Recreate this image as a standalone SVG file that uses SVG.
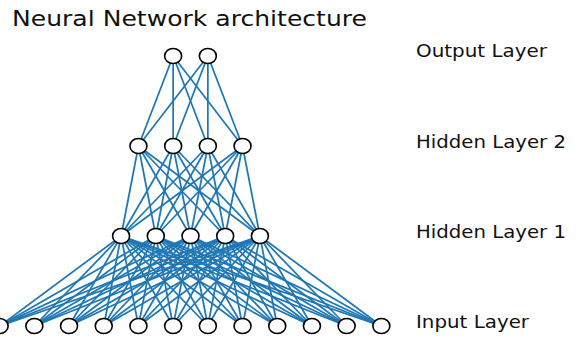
<svg xmlns="http://www.w3.org/2000/svg" width="580" height="338" viewBox="0 0 580 338">
  <style>
    .edge { stroke: #1f77b4; stroke-width: 1.75; }
    .node { fill: #ffffff; stroke: #000000; stroke-width: 1.6; }
    .label { font-family: "DejaVu Sans", sans-serif; fill: #111111; }
  </style>
  <rect width="580" height="338" fill="#ffffff"/>

  <text class="label" x="12" y="26" font-size="20.5" textLength="355" lengthAdjust="spacingAndGlyphs">Neural Network architecture</text>

  <g id="connectors">
    <!-- input layer (y=326) to hidden layer 1 (y=236) -->
    <g id="edges-input-h1">
      <line class="edge" x1="-0.35" y1="326" x2="121.1" y2="236"/><line class="edge" x1="-0.35" y1="326" x2="155.8" y2="236"/><line class="edge" x1="-0.35" y1="326" x2="190.5" y2="236"/><line class="edge" x1="-0.35" y1="326" x2="225.2" y2="236"/><line class="edge" x1="-0.35" y1="326" x2="259.9" y2="236"/>
      <line class="edge" x1="34.35" y1="326" x2="121.1" y2="236"/><line class="edge" x1="34.35" y1="326" x2="155.8" y2="236"/><line class="edge" x1="34.35" y1="326" x2="190.5" y2="236"/><line class="edge" x1="34.35" y1="326" x2="225.2" y2="236"/><line class="edge" x1="34.35" y1="326" x2="259.9" y2="236"/>
      <line class="edge" x1="69.05" y1="326" x2="121.1" y2="236"/><line class="edge" x1="69.05" y1="326" x2="155.8" y2="236"/><line class="edge" x1="69.05" y1="326" x2="190.5" y2="236"/><line class="edge" x1="69.05" y1="326" x2="225.2" y2="236"/><line class="edge" x1="69.05" y1="326" x2="259.9" y2="236"/>
      <line class="edge" x1="103.75" y1="326" x2="121.1" y2="236"/><line class="edge" x1="103.75" y1="326" x2="155.8" y2="236"/><line class="edge" x1="103.75" y1="326" x2="190.5" y2="236"/><line class="edge" x1="103.75" y1="326" x2="225.2" y2="236"/><line class="edge" x1="103.75" y1="326" x2="259.9" y2="236"/>
      <line class="edge" x1="138.45" y1="326" x2="121.1" y2="236"/><line class="edge" x1="138.45" y1="326" x2="155.8" y2="236"/><line class="edge" x1="138.45" y1="326" x2="190.5" y2="236"/><line class="edge" x1="138.45" y1="326" x2="225.2" y2="236"/><line class="edge" x1="138.45" y1="326" x2="259.9" y2="236"/>
      <line class="edge" x1="173.15" y1="326" x2="121.1" y2="236"/><line class="edge" x1="173.15" y1="326" x2="155.8" y2="236"/><line class="edge" x1="173.15" y1="326" x2="190.5" y2="236"/><line class="edge" x1="173.15" y1="326" x2="225.2" y2="236"/><line class="edge" x1="173.15" y1="326" x2="259.9" y2="236"/>
      <line class="edge" x1="207.85" y1="326" x2="121.1" y2="236"/><line class="edge" x1="207.85" y1="326" x2="155.8" y2="236"/><line class="edge" x1="207.85" y1="326" x2="190.5" y2="236"/><line class="edge" x1="207.85" y1="326" x2="225.2" y2="236"/><line class="edge" x1="207.85" y1="326" x2="259.9" y2="236"/>
      <line class="edge" x1="242.55" y1="326" x2="121.1" y2="236"/><line class="edge" x1="242.55" y1="326" x2="155.8" y2="236"/><line class="edge" x1="242.55" y1="326" x2="190.5" y2="236"/><line class="edge" x1="242.55" y1="326" x2="225.2" y2="236"/><line class="edge" x1="242.55" y1="326" x2="259.9" y2="236"/>
      <line class="edge" x1="277.25" y1="326" x2="121.1" y2="236"/><line class="edge" x1="277.25" y1="326" x2="155.8" y2="236"/><line class="edge" x1="277.25" y1="326" x2="190.5" y2="236"/><line class="edge" x1="277.25" y1="326" x2="225.2" y2="236"/><line class="edge" x1="277.25" y1="326" x2="259.9" y2="236"/>
      <line class="edge" x1="311.95" y1="326" x2="121.1" y2="236"/><line class="edge" x1="311.95" y1="326" x2="155.8" y2="236"/><line class="edge" x1="311.95" y1="326" x2="190.5" y2="236"/><line class="edge" x1="311.95" y1="326" x2="225.2" y2="236"/><line class="edge" x1="311.95" y1="326" x2="259.9" y2="236"/>
      <line class="edge" x1="346.65" y1="326" x2="121.1" y2="236"/><line class="edge" x1="346.65" y1="326" x2="155.8" y2="236"/><line class="edge" x1="346.65" y1="326" x2="190.5" y2="236"/><line class="edge" x1="346.65" y1="326" x2="225.2" y2="236"/><line class="edge" x1="346.65" y1="326" x2="259.9" y2="236"/>
      <line class="edge" x1="381.35" y1="326" x2="121.1" y2="236"/><line class="edge" x1="381.35" y1="326" x2="155.8" y2="236"/><line class="edge" x1="381.35" y1="326" x2="190.5" y2="236"/><line class="edge" x1="381.35" y1="326" x2="225.2" y2="236"/><line class="edge" x1="381.35" y1="326" x2="259.9" y2="236"/>
    </g>
    <!-- hidden layer 1 (y=236) to hidden layer 2 (y=146) -->
    <g id="edges-h1-h2">
      <line class="edge" x1="121.1" y1="236" x2="138.45" y2="146"/><line class="edge" x1="121.1" y1="236" x2="173.15" y2="146"/><line class="edge" x1="121.1" y1="236" x2="207.85" y2="146"/><line class="edge" x1="121.1" y1="236" x2="242.55" y2="146"/>
      <line class="edge" x1="155.8" y1="236" x2="138.45" y2="146"/><line class="edge" x1="155.8" y1="236" x2="173.15" y2="146"/><line class="edge" x1="155.8" y1="236" x2="207.85" y2="146"/><line class="edge" x1="155.8" y1="236" x2="242.55" y2="146"/>
      <line class="edge" x1="190.5" y1="236" x2="138.45" y2="146"/><line class="edge" x1="190.5" y1="236" x2="173.15" y2="146"/><line class="edge" x1="190.5" y1="236" x2="207.85" y2="146"/><line class="edge" x1="190.5" y1="236" x2="242.55" y2="146"/>
      <line class="edge" x1="225.2" y1="236" x2="138.45" y2="146"/><line class="edge" x1="225.2" y1="236" x2="173.15" y2="146"/><line class="edge" x1="225.2" y1="236" x2="207.85" y2="146"/><line class="edge" x1="225.2" y1="236" x2="242.55" y2="146"/>
      <line class="edge" x1="259.9" y1="236" x2="138.45" y2="146"/><line class="edge" x1="259.9" y1="236" x2="173.15" y2="146"/><line class="edge" x1="259.9" y1="236" x2="207.85" y2="146"/><line class="edge" x1="259.9" y1="236" x2="242.55" y2="146"/>
    </g>
    <!-- hidden layer 2 (y=146) to output layer (y=56) -->
    <g id="edges-h2-output">
      <line class="edge" x1="138.45" y1="146" x2="173.15" y2="56"/><line class="edge" x1="138.45" y1="146" x2="207.85" y2="56"/>
      <line class="edge" x1="173.15" y1="146" x2="173.15" y2="56"/><line class="edge" x1="173.15" y1="146" x2="207.85" y2="56"/>
      <line class="edge" x1="207.85" y1="146" x2="173.15" y2="56"/><line class="edge" x1="207.85" y1="146" x2="207.85" y2="56"/>
      <line class="edge" x1="242.55" y1="146" x2="173.15" y2="56"/><line class="edge" x1="242.55" y1="146" x2="207.85" y2="56"/>
    </g>
  </g>

  <!-- output layer -->
  <g id="output-layer">
    <g id="out-1"><ellipse class="node" cx="173.15" cy="56" rx="8.5" ry="7.5"/></g>
    <g id="out-2"><ellipse class="node" cx="207.85" cy="56" rx="8.5" ry="7.5"/></g>
  </g>
  <!-- hidden layer 2 -->
  <g id="hidden-layer-2">
    <g id="h2-1"><ellipse class="node" cx="138.45" cy="146" rx="8.5" ry="7.5"/></g>
    <g id="h2-2"><ellipse class="node" cx="173.15" cy="146" rx="8.5" ry="7.5"/></g>
    <g id="h2-3"><ellipse class="node" cx="207.85" cy="146" rx="8.5" ry="7.5"/></g>
    <g id="h2-4"><ellipse class="node" cx="242.55" cy="146" rx="8.5" ry="7.5"/></g>
  </g>
  <!-- hidden layer 1 -->
  <g id="hidden-layer-1">
    <g id="h1-1"><ellipse class="node" cx="121.1" cy="236" rx="8.5" ry="7.5"/></g>
    <g id="h1-2"><ellipse class="node" cx="155.8" cy="236" rx="8.5" ry="7.5"/></g>
    <g id="h1-3"><ellipse class="node" cx="190.5" cy="236" rx="8.5" ry="7.5"/></g>
    <g id="h1-4"><ellipse class="node" cx="225.2" cy="236" rx="8.5" ry="7.5"/></g>
    <g id="h1-5"><ellipse class="node" cx="259.9" cy="236" rx="8.5" ry="7.5"/></g>
  </g>
  <!-- input layer -->
  <g id="input-layer">
    <g id="in-1"><ellipse class="node" cx="-0.35" cy="326" rx="8.5" ry="7.5"/></g>
    <g id="in-2"><ellipse class="node" cx="34.35" cy="326" rx="8.5" ry="7.5"/></g>
    <g id="in-3"><ellipse class="node" cx="69.05" cy="326" rx="8.5" ry="7.5"/></g>
    <g id="in-4"><ellipse class="node" cx="103.75" cy="326" rx="8.5" ry="7.5"/></g>
    <g id="in-5"><ellipse class="node" cx="138.45" cy="326" rx="8.5" ry="7.5"/></g>
    <g id="in-6"><ellipse class="node" cx="173.15" cy="326" rx="8.5" ry="7.5"/></g>
    <g id="in-7"><ellipse class="node" cx="207.85" cy="326" rx="8.5" ry="7.5"/></g>
    <g id="in-8"><ellipse class="node" cx="242.55" cy="326" rx="8.5" ry="7.5"/></g>
    <g id="in-9"><ellipse class="node" cx="277.25" cy="326" rx="8.5" ry="7.5"/></g>
    <g id="in-10"><ellipse class="node" cx="311.95" cy="326" rx="8.5" ry="7.5"/></g>
    <g id="in-11"><ellipse class="node" cx="346.65" cy="326" rx="8.5" ry="7.5"/></g>
    <g id="in-12"><ellipse class="node" cx="381.35" cy="326" rx="8.5" ry="7.5"/></g>
  </g>

  <!-- layer captions -->
  <g id="layer-labels">
    <text class="label" x="416" y="57" font-size="17" textLength="131" lengthAdjust="spacingAndGlyphs">Output Layer</text>
    <text class="label" x="416" y="147.5" font-size="17" textLength="150" lengthAdjust="spacingAndGlyphs">Hidden Layer 2</text>
    <text class="label" x="416" y="237.5" font-size="17" textLength="150" lengthAdjust="spacingAndGlyphs">Hidden Layer 1</text>
    <text class="label" x="416" y="328" font-size="17" textLength="113" lengthAdjust="spacingAndGlyphs">Input Layer</text>
  </g>
</svg>
